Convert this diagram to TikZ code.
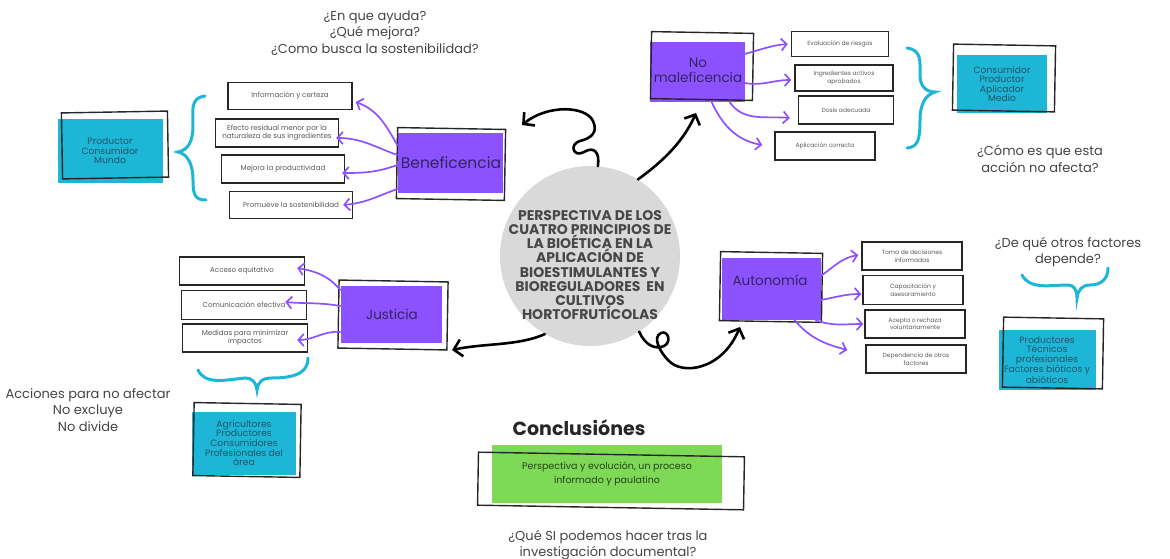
\documentclass[tikz,border=0pt]{standalone}
\usepackage{fontspec}
\setmainfont{Poppins}
\usetikzlibrary{arrows.meta}
\definecolor{purp}{HTML}{8C52FF}
\definecolor{cyanb}{HTML}{1DB6D6}
\definecolor{grn}{HTML}{7ED957}
\definecolor{circg}{HTML}{D9D9D9}
\definecolor{cytext}{HTML}{22556A}
\definecolor{ptext}{HTML}{33255E}
\definecolor{qtext}{HTML}{444444}
\tikzset{
 item/.style={draw=black!85, line width=1.4pt, fill=white, align=center, inner sep=1pt, font=\fontsize{6}{7.5}\selectfont, text=black!65},
 itemL/.style={item, font=\fontsize{7.1}{8.3}\selectfont},
 pbox/.style={fill=purp, inner sep=0pt},
 ptxt/.style={font=\fontsize{13.5}{15}\selectfont, text=ptext, align=center, inner sep=0pt},
 cbox/.style={fill=cyanb, inner sep=0pt, font=\fontsize{9.2}{9.6}\selectfont, text=cytext, align=center},
 frame/.style={draw=black!85, line width=1.4pt, inner sep=0pt},
 parr/.style={draw=purp, line width=1.7pt, line cap=round, -{Straight Barb[length=5.5pt,width=12pt]}},
 barr/.style={draw=black, line width=2.6pt, line cap=round, -{Straight Barb[length=8pt,width=17pt]}},
 brace/.style={draw=cyanb, line width=3pt, line cap=round},
 q/.style={font=\fontsize{13}{16.5}\selectfont, text=qtext, align=center, inner sep=0pt},
}
\begin{document}
\begin{tikzpicture}[x=1pt,y=-1pt]
\useasboundingbox (0,0) rectangle (1170,559);

% ---------- center circle ----------
\node[circle, fill=circg, minimum size=180pt, inner sep=0pt] (cc) at (590,256) {};
\node[align=center, inner sep=0pt, font=\bfseries\fontsize{14}{14.2}\selectfont, text=black!72] (ccT) at (590,265)
  {PERSPECTIVA DE LOS\\CUATRO PRINCIPIOS DE\\LA BIOÉTICA EN LA\\APLICACIÓN DE\\BIOESTIMULANTES Y\\BIOREGULADORES\ \ EN\\CULTIVOS\\HORTOFRUTÍCOLAS};

% ---------- Beneficencia ----------
\node[q] (qb) at (375,33) {¿En que ayuda?\\¿Qué mejora?\\¿Como busca la sostenibilidad?};
\node[cbox, minimum width=105pt, minimum height=63pt] (cbl) at (110,151) {Productor\\Consumidor\\Mundo};
\node[frame, minimum width=106pt, minimum height=66pt, rotate=1] (cblF) at (115,145) {};
\draw[brace] (205,96) .. controls (190,98) and (193,110) .. (193,125) .. controls (193,142) and (188,150) .. (178,152) .. controls (188,154) and (193,165) .. (193,180) .. controls (193,195) and (195,200) .. (206,200);
\node[itemL, minimum width=124pt, minimum height=27pt] (b1) at (290,96) {Información y certeza};
\node[itemL, minimum width=123pt, minimum height=28pt] (b2) at (277,133) {Efecto residual menor por la\\naturaleza de sus ingredientes};
\node[itemL, minimum width=123pt, minimum height=28pt] (b3) at (283,169) {Mejora la productividad};
\node[itemL, minimum width=123pt, minimum height=27pt] (b4) at (291,205) {Promueve la sostenibilidad};
\node[pbox, minimum width=105pt, minimum height=60pt] (ben) at (450,163) {};
\node[frame, minimum width=108pt, minimum height=71pt, rotate=-1] (benF) at (451,164) {};
\node[ptxt, font=\fontsize{15.5}{17}\selectfont] (benT) at (451,163) {Beneficencia};
\draw[parr] ([yshift=18pt]ben.west) to[out=120,in=-20] ([xshift=3pt,yshift=-6pt]b1.east);
\draw[parr] ([yshift=8pt]ben.west) to[out=160,in=0] ([xshift=-3pt,yshift=-5pt]b2.east);
\draw[parr] ([yshift=-2pt]ben.west) to[out=200,in=0] ([xshift=-3pt,yshift=-4pt]b3.east);
\draw[parr] ([yshift=-26pt]ben.west) to[out=200,in=5] ([xshift=-10pt,yshift=0pt]b4.east);
\coordinate (a1) at (522,125);
\draw[barr] (cc.85) .. controls (600,152) and (594,146) .. (584,152) .. controls (573,158) and (569,144) .. (580,141) .. controls (592,138) and (598,132) .. (593,121) .. controls (586,106) and (548,104) .. (a1);

% ---------- No maleficencia ----------
\node[pbox, minimum width=95pt, minimum height=60pt] (nm) at (697,72) {};
\node[frame, minimum width=102pt, minimum height=67pt, rotate=-1] (nmF) at (702,66) {};
\node[ptxt] (nmT) at (698,70) {No\\maleficencia};
\node[item, minimum width=97pt, minimum height=25pt] (n1) at (840,44) {Evaluación de riesgos};
\node[item, minimum width=98pt, minimum height=26pt] (n2) at (844,78) {Ingredientes activos\\aprobados};
\node[item, minimum width=95pt, minimum height=28pt] (n3) at (846,110) {Dosis adecuada};
\node[item, minimum width=100pt, minimum height=28pt] (n4) at (825,146) {Aplicación correcta};
\draw[parr] ([yshift=18pt]nm.east) to[out=15,in=185] ([xshift=-3pt]n1.west);
\draw[parr] ([yshift=-11pt]nm.east) to[out=-10,in=180] ([xshift=-3pt,yshift=-2pt]n2.west);
\draw[parr] ([xshift=-15pt]nm.south east) to[out=-55,in=175] ([xshift=-8pt,yshift=-8pt]n3.west);
\draw[parr] ([xshift=-33pt]nm.south east) to[out=-65,in=170] ([xshift=-12pt,yshift=1pt]n4.west);
\draw[brace] (907,48) .. controls (922,50) and (920,62) .. (920,75) .. controls (920,85) and (925,92) .. (935,92) .. controls (925,95) and (920,105) .. (920,120) .. controls (920,140) and (918,147) .. (907,148);
\node[cbox, minimum width=90pt, minimum height=58pt] (cbr) at (1002,84) {Consumidor\\Productor\\Aplicador\\Medio};
\node[frame, minimum width=102pt, minimum height=66pt, rotate=-1] (cbrF) at (1004,78) {};
\node[q] (qn) at (1040,159) {¿Cómo es que esta\\acción no afecta?};
\coordinate (a2) at (696,113);
\draw[barr] (cc.58) .. controls (665,160) and (684,140) .. (a2);

% ---------- Justicia ----------
\node[pbox, minimum width=101pt, minimum height=57pt] (ju) at (391,314) {};
\node[frame, minimum width=109pt, minimum height=68pt, rotate=-1] (juF) at (393,315) {};
\node[ptxt] (juT) at (392,314) {Justicia};
\node[itemL, minimum width=125pt, minimum height=28pt] (j1) at (242,271) {Acceso equitativo};
\node[itemL, minimum width=125pt, minimum height=29pt] (j2) at (244,305) {Comunicación efectiva};
\node[itemL, minimum width=125pt, minimum height=28pt] (j3) at (245,338) {Medidas para minimizar\\impactos};
\draw[parr] ([yshift=24pt]ju.west) to[out=130,in=-10] ([xshift=-8pt,yshift=3pt]j1.east);
\draw[parr] ([yshift=8pt]ju.west) to[out=170,in=-5] ([xshift=-22pt,yshift=3pt]j2.east);
\draw[parr] ([yshift=-18pt]ju.west) to[out=175,in=0] ([xshift=-11pt,yshift=-2pt]j3.east);
\coordinate (a3) at (452,350);
\draw[barr] (cc.240) .. controls (518,346) and (485,343) .. (a3);
\draw[brace] (198,370) .. controls (205,385) and (225,380) .. (245,378) .. controls (252,378) and (256,382) .. (257,390) .. controls (258,382) and (262,378) .. (272,378) .. controls (300,378) and (308,370) .. (308,358);
\node[q] (qj) at (88,410) {Acciones para no afectar\\No excluye\\No divide};
\node[cbox, minimum width=104pt, minimum height=63pt] (cbj) at (244,443) {Agricultores\\Productores\\Consumidores\\Profesionales del\\área};
\node[frame, minimum width=107pt, minimum height=73pt, rotate=-1] (cbjF) at (247,440) {};

% ---------- Autonomia ----------
\node[pbox, minimum width=99pt, minimum height=62pt] (au) at (771,289) {};
\node[frame, minimum width=102pt, minimum height=69pt, rotate=-1] (auF) at (771,287) {};
\node[ptxt] (auT) at (770,280) {Autonomía};
\node[item, minimum width=100pt, minimum height=28pt] (u1) at (912,256) {Toma de decisiones\\informadas};
\node[item, minimum width=100pt, minimum height=29pt] (u2) at (913,290) {Capacitación y\\asesoramiento};
\node[item, minimum width=100pt, minimum height=28pt] (u3) at (915,324) {Acepta o rechaza\\voluntariamente};
\node[item, minimum width=100pt, minimum height=28pt] (u4) at (916,359) {Dependencia de otros\\factores};
\draw[parr] ([yshift=13pt]au.east) to[out=35,in=190] ([xshift=-3pt,yshift=1pt]u1.west);
\draw[parr] ([yshift=-11pt]au.east) to[out=10,in=180] ([xshift=-1pt,yshift=-4pt]u2.west);
\draw[parr] ([xshift=-5pt]au.south east) to[out=-20,in=180] ([xshift=-1pt,yshift=0pt]u3.west);
\draw[parr] ([xshift=-26pt]au.south east) to[out=-50,in=165] ([xshift=-18pt,yshift=9pt]u4.west);
\coordinate (a4) at (740,327);
\draw[barr] (cc.-57) .. controls (645,345) and (655,350) .. (664,346) .. controls (672,342) and (668,330) .. (661,333) .. controls (652,337) and (660,352) .. (668,360) .. controls (682,376) and (722,370) .. (a4);
\node[q] (qa) at (1068,252) {¿De qué otros factores\\depende?};
\draw[brace] (1022,275) .. controls (1030,290) and (1050,285) .. (1068,285) .. controls (1074,285) and (1077,290) .. (1077,298) .. controls (1078,290) and (1082,285) .. (1090,285) .. controls (1102,285) and (1108,278) .. (1108,268);
\node[cbox, minimum width=97pt, minimum height=60pt] (cba) at (1047,360) {Productores\\Técnicos\\profesionales\\Factores bióticos y\\abióticos};
\node[frame, minimum width=100pt, minimum height=70pt, rotate=-1] (cbaF) at (1053,353) {};

% ---------- Conclusiones ----------
\node[font=\bfseries\fontsize{19}{22}\selectfont, text=black!85, inner sep=0pt] (con) at (579,428) {Conclusiónes};
\node[fill=grn, minimum width=230pt, minimum height=58pt, inner sep=0pt, align=center,
  font=\fontsize{9.5}{13.5}\selectfont, text=black!70!grn] (gr) at (607,474) {Perspectiva y evolución, un proceso\\informado y paulatino};
\node[frame, minimum width=266pt, minimum height=53pt, rotate=-1] (grF) at (611,481) {};
\node[q] (qc) at (608,545) {¿Qué SI podemos hacer tras la\\investigación documental?};
\end{tikzpicture}
\end{document}
